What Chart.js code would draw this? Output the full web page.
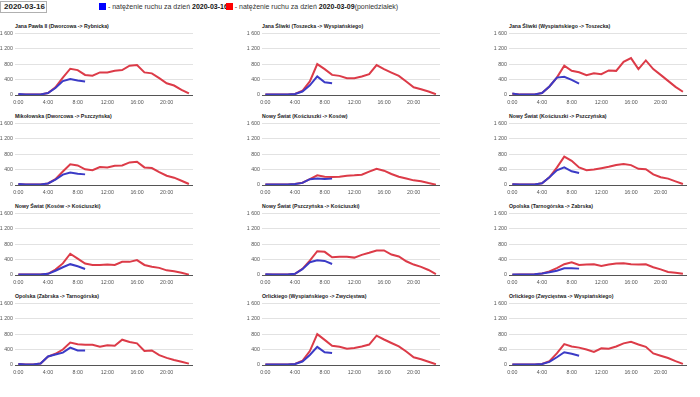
<!DOCTYPE html>
<html>
<head>
<meta charset="utf-8">
<script src="https://cdn.jsdelivr.net/npm/chart.js@4.4.1/dist/chart.umd.min.js"></script>
<style>
  body { margin: 0; background: #fff; width: 700px; height: 397px; overflow: hidden; position: relative;
         font-family: Arial, "Liberation Sans", sans-serif; }
  .datebox { position: absolute; left: 0; top: 1px; width: 47px; height: 12px; border: 1px solid #b0b0b0;
             box-sizing: border-box; font-size: 8px; font-weight: bold; line-height: 10px; padding-left: 3px; color: #222; }
  .legend { position: absolute; left: 99px; top: 2px; font-size: 7px; line-height: 9px; color: #333; white-space: nowrap; }
  .legend b { color: #111; }
  .sq { display: inline-block; width: 7px; height: 7px; vertical-align: -1px; }
  .title { position: absolute; font-size: 5.2px; font-weight: bold; color: #222; white-space: nowrap; line-height: 6px; }
  canvas { position: absolute; }
</style>
</head>
<body>
<div class="datebox">2020-03-16</div>
<div class="legend"><span class="sq" style="background:#0000ff"></span> - natężenie ruchu za dzień <b>2020-03-16</b><span class="sq" style="background:#ff0000;margin-left:-2px"></span> - natężenie ruchu za dzień <b>2020-03-09</b>(poniedziałek)</div>

<script>
// hours of the day (x axis)
const hours = [0, 1, 2, 3, 4, 5, 6, 7, 8, 9, 10, 11, 12, 13, 14, 15, 16, 17, 18, 19, 20, 21, 22, 23];
const hourTicks = [0, 4, 8, 12, 16, 20];
const hourLabels = ['0:00', '4:00', '8:00', '12:00', '16:00', '20:00'];
const yTicks = [0, 400, 800, 1200, 1600];
const yTickLabels = ['0', '400', '800', '1 200', '1 600'];

const titles = [
  'Jana Pawła II (Dworcowa -> Rybnicka)',
  'Jana Śliwki (Toszecka -> Wyspiańskiego)',
  'Jana Śliwki (Wyspiańskiego -> Toszecka)',
  'Mikołowska (Dworcowa -> Pszczyńska)',
  'Nowy Świat (Kościuszki -> Kosów)',
  'Nowy Świat (Kościuszki -> Pszczyńska)',
  'Nowy Świat (Kosów -> Kościuszki)',
  'Nowy Świat (Pszczyńska -> Kościuszki)',
  'Opolska (Tarnogórska -> Zabrska)',
  'Opolska (Zabrska -> Tarnogórska)',
  'Orlickiego (Wyspiańskiego -> Zwycięstwa)',
  'Orlickiego (Zwycięstwa -> Wyspiańskiego)'
];

// blue = 2020-03-16 (0:00 - 9:00), red = 2020-03-09 (whole day)
const blue1  = [25, 10, 10, 15, 50, 180, 360, 415, 375, 350];
const red1   = [15, 10, 10, 15, 50, 200, 450, 680, 645, 520, 500, 585, 580, 630, 645, 760, 775, 585, 560, 435, 305, 245, 135, 40];
const blue2  = [10, 10, 10, 15, 25, 90, 250, 480, 330, 305];
const red2   = [10, 10, 10, 15, 25, 110, 350, 800, 670, 520, 495, 435, 435, 480, 540, 775, 670, 580, 495, 350, 200, 150, 90, 20];
const blue3  = [40, 10, 10, 15, 50, 220, 450, 470, 390, 295];
const red3   = [30, 10, 10, 15, 50, 220, 450, 760, 625, 590, 515, 565, 540, 635, 625, 860, 955, 670, 895, 670, 520, 365, 210, 85];
const blue4  = [25, 10, 10, 15, 40, 140, 270, 325, 290, 275];
const red4   = [20, 10, 10, 15, 40, 150, 350, 535, 505, 405, 385, 465, 455, 500, 505, 585, 600, 455, 440, 335, 240, 190, 110, 25];
const blue5  = [10, 10, 10, 15, 25, 55, 150, 170, 155, 165];
const red5   = [10, 10, 10, 15, 25, 60, 150, 250, 215, 205, 215, 240, 250, 265, 345, 420, 370, 285, 215, 170, 120, 95, 50, 10];
const blue6  = [20, 10, 10, 15, 45, 200, 380, 455, 355, 310];
const red6   = [20, 10, 10, 15, 45, 200, 450, 735, 625, 455, 385, 400, 435, 470, 520, 545, 515, 420, 410, 275, 200, 165, 95, 25];
const blue7  = [10, 10, 10, 15, 30, 110, 200, 280, 225, 155];
const red7   = [10, 10, 10, 15, 30, 140, 300, 550, 425, 295, 260, 260, 270, 260, 340, 340, 385, 260, 215, 185, 120, 95, 60, 10];
const blue8  = [20, 10, 10, 15, 30, 150, 330, 380, 365, 285];
const red8   = [10, 10, 10, 15, 30, 160, 370, 615, 600, 460, 470, 470, 450, 520, 575, 635, 635, 530, 480, 355, 270, 210, 130, 25];
const blue9  = [10, 10, 10, 20, 40, 70, 110, 175, 175, 165];
const red9   = [5, 10, 10, 20, 40, 90, 180, 280, 330, 260, 270, 280, 235, 270, 295, 305, 280, 270, 275, 200, 145, 80, 60, 35];
const blue10 = [25, 15, 15, 40, 220, 270, 320, 450, 375, 375];
const red10  = [25, 15, 15, 40, 220, 290, 400, 580, 535, 525, 525, 475, 510, 500, 655, 595, 560, 365, 375, 255, 185, 130, 85, 35];
const blue11 = [10, 10, 10, 15, 25, 90, 260, 470, 330, 310];
const red11  = [10, 10, 10, 15, 25, 110, 360, 800, 650, 500, 470, 420, 440, 480, 530, 760, 660, 570, 480, 350, 200, 150, 85, 20];
const blue12 = [10, 10, 10, 15, 25, 80, 200, 330, 290, 240];
const red12  = [10, 10, 10, 15, 25, 100, 300, 540, 480, 450, 400, 340, 430, 420, 480, 560, 600, 530, 470, 300, 240, 180, 100, 30];

const blues = [blue1, blue2, blue3, blue4, blue5, blue6, blue7, blue8, blue9, blue10, blue11, blue12];
const reds  = [red1, red2, red3, red4, red5, red6, red7, red8, red9, red10, red11, red12];

// layout
const colLeft = [0, 247, 494];
const rowTop  = [32, 122, 212, 302];   // y of the 1 600 gridline
const padTop = 4, plotH = 63, xAxisH = 13, yAxisW = 15, plotW = 178;
const tickFont = { size: 5.3, family: 'Arial, "Liberation Sans", sans-serif' };

function pairs(vals) {
  return vals.map((v, i) => ({ x: hours[i], y: v }));
}

titles.forEach((t, i) => {
  const col = i % 3, row = Math.floor(i / 3);
  const left = colLeft[col], top = rowTop[row];

  const title = document.createElement('div');
  title.className = 'title';
  title.textContent = t;
  title.style.left = (left + yAxisW) + 'px';
  title.style.top = (top - 9) + 'px';
  document.body.appendChild(title);

  const cv = document.createElement('canvas');
  const w = yAxisW + plotW, h = padTop + plotH + xAxisH;
  cv.width = w; cv.height = h;
  cv.style.left = left + 'px';
  cv.style.top = (top - padTop) + 'px';
  cv.style.width = w + 'px'; cv.style.height = h + 'px';
  document.body.appendChild(cv);

  new Chart(cv.getContext('2d'), {
    type: 'line',
    data: {
      datasets: [
        { label: '2020-03-16', data: pairs(blues[i]), borderColor: '#3b3bc6', borderWidth: 2 },
        { label: '2020-03-09', data: pairs(reds[i]), borderColor: '#dc3b48', borderWidth: 2 }
      ]
    },
    options: {
      responsive: false,
      animation: false,
      events: [],
      layout: { padding: { top: padTop, left: 0, right: 0, bottom: 0 } },
      elements: { point: { radius: 0 }, line: { tension: 0 } },
      plugins: { legend: { display: false }, tooltip: { enabled: false }, title: { display: false } },
      scales: {
        x: {
          type: 'linear',
          min: -0.45,
          max: 23.55,
          grid: { display: false, drawTicks: false },
          border: { display: false },
          afterBuildTicks: s => { s.ticks = hourTicks.map(v => ({ value: v })); },
          afterFit: s => { s.height = xAxisH; },
          ticks: {
            padding: 4,
            maxRotation: 0,
            autoSkip: false,
            color: '#555',
            font: tickFont,
            callback: v => hourLabels[hourTicks.indexOf(v)]
          }
        },
        y: {
          min: 0,
          max: 1600,
          afterBuildTicks: s => { s.ticks = yTicks.map(v => ({ value: v })); },
          afterFit: s => { s.width = yAxisW; },
          border: { display: false },
          grid: {
            drawTicks: false,
            lineWidth: 1,
            color: c => c.tick && c.tick.value === 0 ? '#555' : '#e2e2e2'
          },
          ticks: {
            padding: 2,
            color: '#555',
            font: tickFont,
            callback: v => yTickLabels[yTicks.indexOf(v)]
          }
        }
      }
    }
  });
});
</script>
</body>
</html>
